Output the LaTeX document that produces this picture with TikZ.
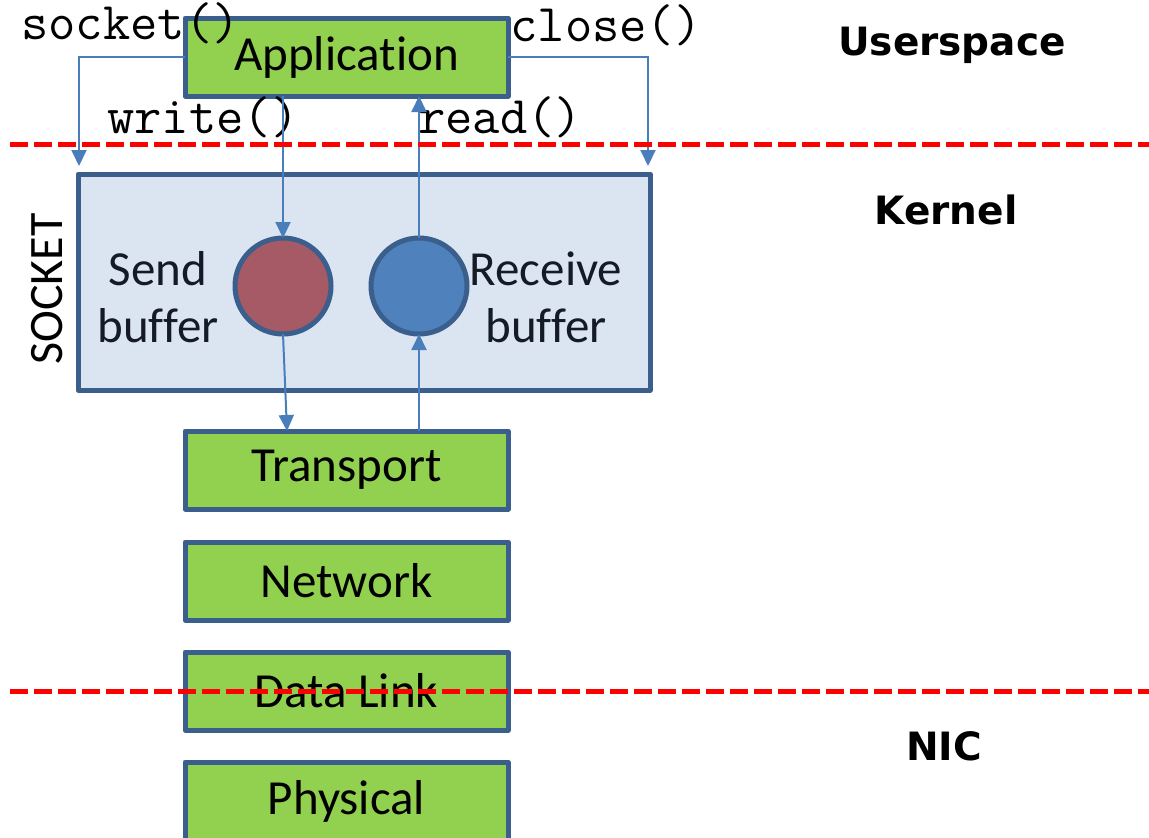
\documentclass[tikz,border=0pt]{standalone}
\usepackage{fontspec}
\setmainfont{Carlito}[Ligatures=CommonOff]
\newfontfamily\zonefont{DejaVu Sans}
\usetikzlibrary{arrows.meta}

\definecolor{layergreen}{HTML}{92D050}
\definecolor{edgeblue}{HTML}{3A5F8C}
\definecolor{sockfill}{HTML}{DBE5F1}
\definecolor{sendred}{HTML}{A65A66}
\definecolor{recvblue}{HTML}{4F81BD}
\definecolor{flowblue}{HTML}{4A7EBB}
\definecolor{zonered}{HTML}{FF0000}
\definecolor{inktext}{HTML}{141B26}

\begin{document}
\begin{tikzpicture}[x=0.5pt,y=-0.5pt,
  layer/.style={draw=edgeblue, fill=layergreen, line width=2.5pt, line join=round,
    minimum width=161.5pt, minimum height=39pt, inner sep=0pt, outer sep=0pt,
    font=\fontsize{24.5}{28}\selectfont},
  buf/.style={circle, draw=edgeblue, line width=2.5pt, minimum size=48pt,
    inner sep=0pt, outer sep=0pt},
  flow/.style={draw=flowblue, line width=1pt, -{Triangle[length=8pt,width=7.5pt]}},
  code/.style={font=\ttfamily\fontsize{26.5}{26.5}\selectfont, inner sep=0pt, anchor=base west},
  zone/.style={font=\zonefont\bfseries\fontsize{19.5}{20}\selectfont, inner sep=0pt},
  boundary/.style={draw=zonered, line width=2.5pt, dash pattern=on 9pt off 3pt},
  buflabel/.style={align=center, text=inktext, inner sep=0pt,
    font=\fontsize{24.5}{28.5}\selectfont}
]
\useasboundingbox (0,0) rectangle (1149,837);

% socket container
\node[draw=edgeblue, fill=sockfill, line width=2.5pt, line join=round,
      minimum width=286pt, minimum height=108pt, inner sep=0pt, outer sep=0pt]
      (sock) at (364,282) {};
\node[rotate=90, font=\fontsize{24}{24}\selectfont, inner sep=0pt] (socklabel) at (47,289) {SOCKET};

% buffers
\node[buf, fill=sendred] (send) at (283,286) {};
\node[buf, fill=recvblue] (recv) at (419,286) {};
\node[buflabel] (sendlabel) at (158,297) {Send\\buffer};
\node[buflabel] (recvlabel) at (546,297) {Receive\\buffer};

% protocol layers
\node[layer] (app) at (346.5,57) {Application};
\node[layer] (transport) at (346.5,470) {Transport};
\node[layer] (network) at (346.5,581) {Network};
\node[layer] (datalink) at (346.5,691) {Data Link};
\node[layer] (physical) at (346.5,801) {Physical};

% system calls, set over the application box
\node[code] (socketcall) at (21,39) {socket()};
\node[code] (closecall) at (510,41) {close()};
\node[code] (writecall) at (107,133) {write()};
\node[code] (readcall) at (418,133) {read()};

% data flow
\draw[flow] (app.west) -| ([shift={(0.5pt,4pt)}]sock.north west);
\draw[flow] (app.east) -| ([shift={(-1pt,4pt)}]sock.north east);
\draw[flow] (send.north |- app.south) -- (send.north);
\draw[flow] (recv.north) -- (recv.north |- app.south);
\draw[flow] (send.south) -- ([xshift=2pt]send.south |- transport.north);
\draw[flow] (recv.south |- transport.north) -- (recv.south);

% privilege boundaries
\draw[boundary] (10,144) -- (1149,144);
\draw[boundary] (10,691) -- (1149,691);

% zone labels
\node[zone] (userspace) at (952,45) {Userspace};
\node[zone] (kernel) at (946,210) {Kernel};
\node[zone] (nic) at (944,746) {NIC};
\end{tikzpicture}
\end{document}
